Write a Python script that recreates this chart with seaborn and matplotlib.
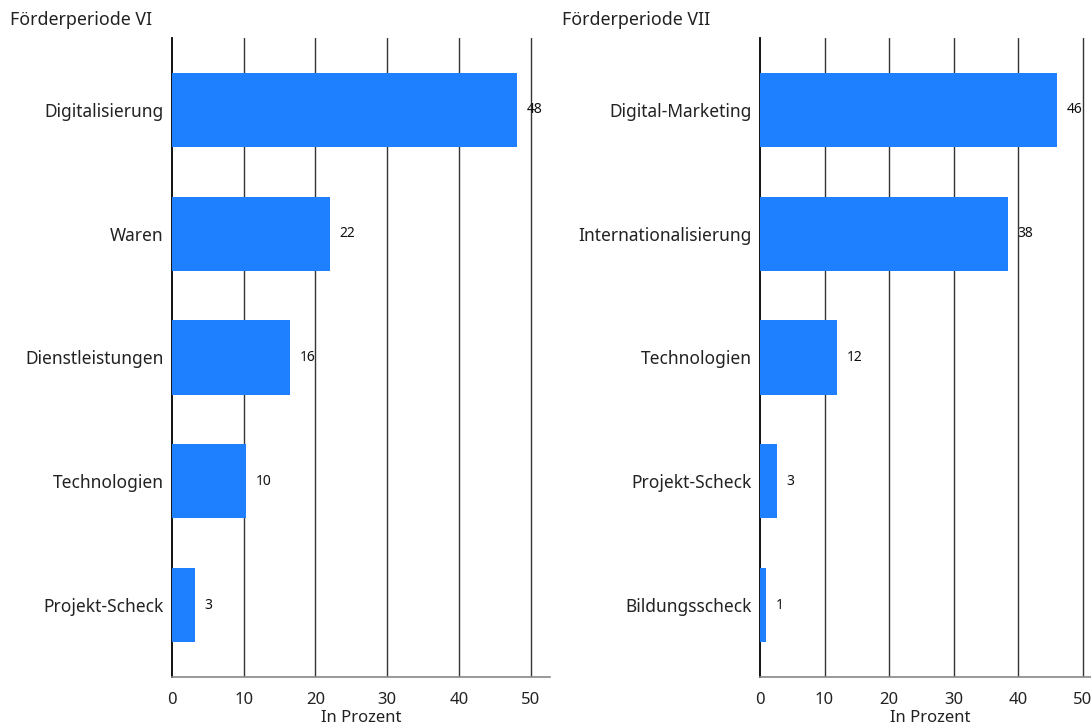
import matplotlib
matplotlib.use("Agg")
import matplotlib.pyplot as plt
import seaborn as sns
import pandas as pd

cats_vi = ["Digitalisierung", "Waren", "Dienstleistungen", "Technologien", "Projekt-Scheck"]
vals_vi = [48.1, 22.0, 16.5, 10.3, 3.2]
cats_vii = ["Digital-Marketing", "Internationalisierung", "Technologien", "Projekt-Scheck", "Bildungsscheck"]
vals_vii = [46.0, 38.4, 11.9, 2.6, 0.9]
titles = ["Förderperiode VI", "Förderperiode VII"]
xticks = [0, 10, 20, 30, 40, 50]
xlabel = "In Prozent"

sns.set_theme(style="white")
plt.rcParams['font.family'] = ['Noto Sans', 'DejaVu Sans']

fig = plt.figure(figsize=(10.91, 7.27), dpi=100)
W, H = 1091, 727
color = "#1f80ff"

axes_px = [(172, 378), (760, 340)]
top, bottom = 38, 677
data = [(cats_vi, vals_vi), (cats_vii, vals_vii)]
title_x = [10, 562]

for i, ((cats, vals), (x0, w)) in enumerate(zip(data, axes_px)):
    ax = fig.add_axes([x0 / W, 1 - bottom / H, w / W, (bottom - top) / H])
    df = pd.DataFrame({"cat": cats, "val": vals})
    sns.barplot(data=df, x="val", y="cat", orient="h", color=color, width=0.6,
                saturation=1, ax=ax, zorder=3, linewidth=0, edgecolor="none")
    ax.set_xlim(0, 52.7)
    ax.set_ylim(4.58, -0.58)
    ax.set_xticks(xticks)
    ax.set_xticklabels([str(t) for t in xticks], fontsize=12, color="#222222")
    ax.tick_params(axis="y", labelsize=12.5, length=0, pad=6, labelcolor="#222222")
    ax.tick_params(axis="x", length=0, pad=11)
    ax.set_ylabel("")
    ax.set_xlabel(xlabel, fontsize=12, labelpad=1, color="#222222")
    for t in xticks[1:]:
        ax.axvline(t, color="#333333", lw=1.0, zorder=1)
    for s in ["top", "right"]:
        ax.spines[s].set_visible(False)
    ax.spines["left"].set_color("black")
    ax.spines["left"].set_linewidth(1.3)
    ax.spines["bottom"].set_color("#888888")
    ax.spines["bottom"].set_linewidth(1.2)
    for j, v in enumerate(vals):
        ax.annotate(f"{round(v):d}", (v, j), xytext=(7, 0), textcoords="offset points",
                    va="center", ha="left", fontsize=10, color="#111111", zorder=4)
    fig.text(title_x[i] / W, 1 - 20 / H, titles[i], fontsize=12.8, va="center", ha="left",
             color="#222222")

fig.savefig("out.png", dpi=100)
